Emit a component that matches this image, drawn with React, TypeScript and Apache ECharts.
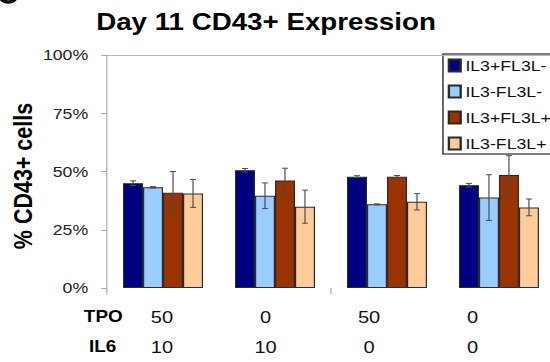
import React, { useEffect, useRef } from "react";
import * as echarts from "echarts";

// Culture conditions per group (table rows under the chart)
const TPO = ["50", "0", "50", "0"];
const IL6 = ["10", "10", "0", "0"];
const CATEGORIES = TPO.map((t, i) => `TPO ${t} / IL6 ${IL6[i]}`);

const SERIES_NAMES = ["IL3+FL3L-", "IL3-FL3L-", "IL3+FL3L+", "IL3-FL3L+"];
const SERIES_COLORS = ["#000080", "#99CCFF", "#993300", "#FFCC99"];

// % CD43+ cells (mean) and error per condition
const IL3P_FL3LN = [45.0, 50.5, 47.8, 44.1];
const IL3P_FL3LN_ERR = [1.0, 0.8, 0.4, 0.8];
const IL3N_FL3LN = [43.2, 39.6, 35.9, 38.8];
const IL3N_FL3LN_ERR = [0.3, 5.5, 0.2, 9.8];
const IL3P_FL3LP = [40.9, 46.1, 47.8, 48.5];
const IL3P_FL3LP_ERR = [9.1, 5.3, 0.5, 8.3];
const IL3N_FL3LP = [40.6, 34.9, 37.0, 34.6];
const IL3N_FL3LP_ERR = [6.0, 7.1, 3.5, 3.6];

const VALUES = [IL3P_FL3LN, IL3N_FL3LN, IL3P_FL3LP, IL3N_FL3LP];
const ERRORS = [IL3P_FL3LN_ERR, IL3N_FL3LN_ERR, IL3P_FL3LP_ERR, IL3N_FL3LP_ERR];

const Y_MIN = 0;
const Y_MAX = 100;
const Y_STEP = 25;

const FONT = '"Liberation Sans", Arial, Helvetica, sans-serif';
const STRETCH = 1.18;
const BAR_FRAC = 20 / 112;

export default function App() {
  const ref = useRef<HTMLDivElement>(null);

  useEffect(() => {
    if (!ref.current) return;
    const chart = echarts.init(ref.current, null, { renderer: "svg" });

    const bars = SERIES_NAMES.map((name, k) => ({
      name,
      type: "bar",
      xAxisIndex: 0,
      yAxisIndex: 0,
      barWidth: `${BAR_FRAC * 100}%`,
      barGap: "0%",
      itemStyle: { color: SERIES_COLORS[k], borderColor: "#2a2a2a", borderWidth: 1 },
      data: VALUES[k],
      ...(k === 0
        ? {
            markLine: {
              silent: true,
              symbol: "none",
              label: { show: false },
              lineStyle: { color: "#b8b8b8", type: "solid", width: 1 },
              data: [{ yAxis: Y_MAX }],
            },
          }
        : {}),
    }));

    const errorBars = SERIES_NAMES.map((name, k) => ({
      name: `${name} error`,
      type: "custom",
      xAxisIndex: 0,
      yAxisIndex: 0,
      z: 5,
      encode: { x: 0, y: 1 },
      data: VALUES[k].map((v, i) => [i, v, ERRORS[k][i]]),
      renderItem: (_params: any, api: any) => {
        const idx = api.value(0);
        const v = api.value(1);
        const e = api.value(2);
        const band = api.size([1, 0])[0];
        const bw = band * BAR_FRAC;
        const cx = api.coord([idx, v])[0] + (k - 1.5) * bw;
        const yTop = api.coord([idx, v + e])[1];
        const yBot = api.coord([idx, v - e])[1];
        const cap = 2.5;
        const style = { stroke: "#4a4a4a", lineWidth: 1 };
        return {
          type: "group",
          children: [
            { type: "line", shape: { x1: cx, y1: yTop, x2: cx, y2: yBot }, style },
            { type: "line", shape: { x1: cx - cap, y1: yTop, x2: cx + cap, y2: yTop }, style },
            { type: "line", shape: { x1: cx - cap, y1: yBot, x2: cx + cap, y2: yBot }, style },
          ],
        };
      },
    }));

    chart.setOption({
      animation: false,
      backgroundColor: "#ffffff",
      textStyle: { fontFamily: FONT },
      grid: [
        { left: 90.7, top: 55, width: 379.6, height: 233 },
        { left: 93.4, top: 280, width: 351, height: 16 },
      ],
      legend: {
        data: SERIES_NAMES,
        left: 375.4,
        top: 54,
        orient: "vertical",
        icon: "rect",
        itemWidth: 10,
        itemHeight: 12,
        itemGap: 11,
        padding: [4, 20, 3, 4],
        backgroundColor: "#ffffff",
        borderColor: "#000000",
        borderWidth: 1,
        selectedMode: false,
        textStyle: { fontSize: 15, color: "#111", fontFamily: FONT, padding: [0, 0, 0, -1] },
      },
      xAxis: [
        {
          type: "category",
          gridIndex: 0,
          data: CATEGORIES,
          axisLine: { show: false },
          axisTick: { show: true, length: 6, lineStyle: { color: "#a8a8a8" } },
          axisLabel: { show: false },
          splitLine: { show: false },
        },
        {
          type: "category",
          gridIndex: 1,
          data: CATEGORIES,
          axisLine: { show: false },
          axisTick: { show: false },
          axisLabel: {
            margin: 6,
            fontSize: 17,
            lineHeight: 30,
            color: "#111",
            fontFamily: FONT,
            formatter: (_v: string, i: number) => `${TPO[i]}\n${IL6[i]}`,
          },
        },
      ],
      yAxis: [
        {
          type: "value",
          gridIndex: 0,
          min: Y_MIN,
          max: Y_MAX,
          interval: Y_STEP,
          axisLine: { show: true, lineStyle: { color: "#a8a8a8" } },
          axisTick: { show: true, length: 5, lineStyle: { color: "#a8a8a8" } },
          axisLabel: {
            margin: 16,
            fontSize: 15,
            color: "#222",
            fontFamily: FONT,
            formatter: "{value}%",
          },
          splitLine: { show: false },
        },
        { type: "value", gridIndex: 1, show: false },
      ],
      graphic: [
        {
          // stroke of the panel letter peeking in at the top-left corner
          type: "arc",
          shape: { cx: 7, cy: -5, r: 7, startAngle: 0.15, endAngle: Math.PI - 0.15 },
          style: { stroke: "#000", lineWidth: 3.5, fill: "none" },
        },
        {
          type: "text",
          x: 225.4,
          y: 22,
          style: {
            text: "Day 11 CD43+ Expression",
            font: `bold 23.5px ${FONT}`,
            fill: "#000",
            textAlign: "center",
            textVerticalAlign: "middle",
          },
        },
        {
          type: "text",
          x: 19.5,
          y: 176,
          rotation: Math.PI / 2,
          style: {
            text: "% CD43+ cells",
            font: `bold 21.5px ${FONT}`,
            fill: "#000",
            textAlign: "center",
            textVerticalAlign: "middle",
          },
        },
        {
          type: "text",
          x: 87.5,
          y: 317,
          style: {
            text: "TPO",
            font: `bold 16px ${FONT}`,
            fill: "#000",
            textAlign: "center",
            textVerticalAlign: "middle",
          },
        },
        {
          type: "text",
          x: 87,
          y: 347,
          style: {
            text: "IL6",
            font: `bold 16px ${FONT}`,
            fill: "#000",
            textAlign: "center",
            textVerticalAlign: "middle",
          },
        },
      ],
      series: [...bars, ...errorBars],
    });

    return () => chart.dispose();
  }, []);

  return (
    <div
      style={{
        position: "absolute",
        left: 0,
        top: 0,
        width: 550,
        height: 362,
        overflow: "hidden",
        background: "#fff",
      }}
    >
      <div
        ref={ref}
        style={{
          width: 480,
          height: 362,
          transform: `scaleX(${STRETCH})`,
          transformOrigin: "0 0",
        }}
      />
    </div>
  );
}
